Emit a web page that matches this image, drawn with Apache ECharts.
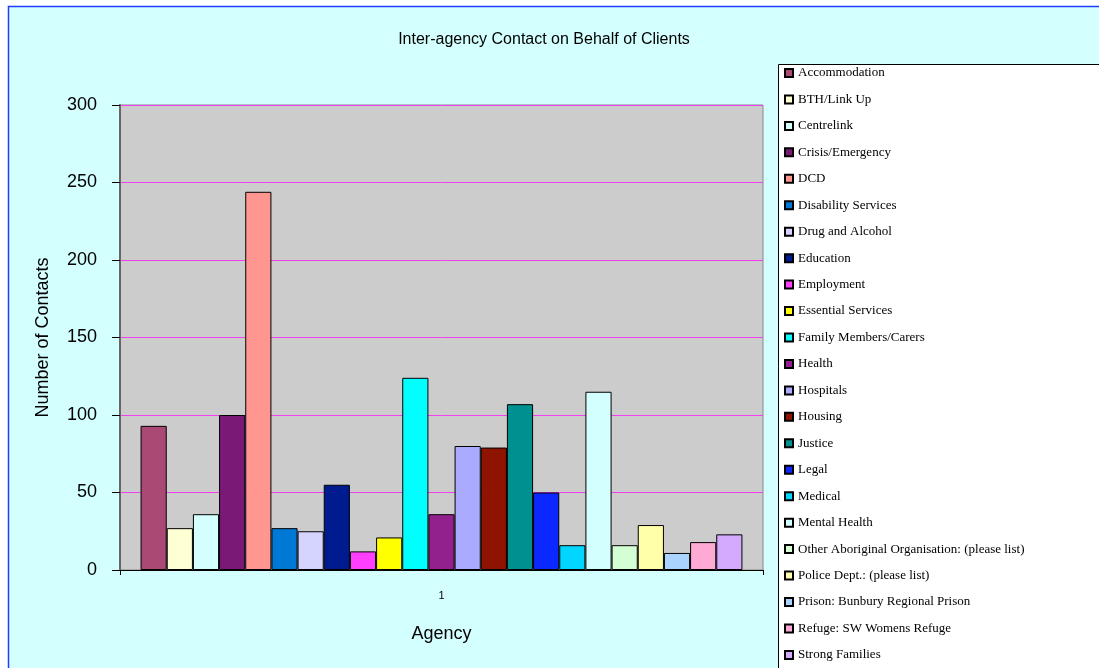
<!DOCTYPE html>
<html>
<head>
<meta charset="utf-8">
<script src="https://cdn.jsdelivr.net/npm/echarts@6/dist/echarts.min.js"></script>
<style>
html,body{margin:0;padding:0;background:#ffffff;}
#chart{width:1099px;height:668px;}
</style>
</head>
<body>
<div id="chart"></div>
<script>
const categories = ['1'];
const agencies = [
  'Accommodation','BTH/Link Up','Centrelink','Crisis/Emergency','DCD',
  'Disability Services','Drug and Alcohol','Education','Employment','Essential Services',
  'Family Members/Carers','Health','Hospitals','Housing','Justice','Legal','Medical',
  'Mental Health','Other Aboriginal Organisation: (please list)','Police Dept.: (please list)',
  'Prison: Bunbury Regional Prison','Refuge: SW Womens Refuge','Strong Families'
];
const contacts = [93, 27, 36, 100, 244, 27, 25, 55, 12, 21, 124, 36, 80, 79, 107, 50, 16, 115, 16, 29, 11, 18, 23];
const palette = [
  '#AA4A74','#FFFFD4','#D4FFFF','#7A1A76','#FF968F','#0079D6','#D4D4FF','#001A90',
  '#FF3FFF','#FFFF00','#00FFFF','#92218E','#AAAAFF','#8F1400','#009090','#0A28FF',
  '#00D6FF','#D4FFFF','#D4FFD4','#FFFFAA','#AAD4FF','#FFAAD4','#D4AAFF'
];
const yTicks = {min: 0, max: 300, interval: 50};

const chart = echarts.init(document.getElementById('chart'), null, {renderer: 'canvas'});

const series = agencies.map((name, i) => ({
  name: name,
  type: 'bar',
  data: [contacts[i]],
  barGap: '0%',
  barCategoryGap: '6.4%',
  itemStyle: {color: palette[i], borderColor: '#000000', borderWidth: 1},
  emphasis: {disabled: true},
  animation: false
}));

chart.setOption({
  backgroundColor: '#ffffff',
  animation: false,
  color: palette,
  graphic: [
    {type: 'rect', z: -10, silent: true, shape: {x: 8.5, y: 6.5, width: 2000, height: 2000},
     style: {fill: '#D4FFFF', stroke: '#1E3CFF', lineWidth: 1.5}},
    {type: 'rect', z: -5, silent: true, shape: {x: 778.5, y: 64.5, width: 2000, height: 2000},
     style: {fill: '#ffffff', stroke: '#000000', lineWidth: 1}}
  ],
  title: {
    text: 'Inter-agency Contact on Behalf of Clients',
    left: 539, top: 27, textAlign: 'center',
    textStyle: {fontFamily: 'Liberation Sans', fontSize: 16, fontWeight: 'normal', color: '#000000'}
  },
  legend: {
    orient: 'vertical',
    left: 784, top: 66,
    padding: 0,
    itemWidth: 8, itemHeight: 8,
    itemGap: 12.45,
    icon: 'rect',
    selectedMode: false,
    textStyle: {fontFamily: 'Liberation Serif', fontSize: 13, color: '#000000', lineHeight: 14, padding: [0,0,0,0]},
    data: agencies
  },
  grid: {
    left: 120, top: 105, width: 643, height: 465,
    show: true, backgroundColor: '#CCCCCC', borderColor: '#888888', borderWidth: 1
  },
  xAxis: {
    type: 'category',
    data: categories,
    name: 'Agency', nameLocation: 'middle', nameGap: 55,
    nameTextStyle: {fontFamily: 'Liberation Sans', fontSize: 18, color: '#000000'},
    axisLine: {show: true, lineStyle: {color: '#000000', width: 1}},
    axisTick: {show: true, length: 5, inside: false, lineStyle: {color: '#000000'}},
    axisLabel: {fontFamily: 'Liberation Sans', fontSize: 11, color: '#000000', margin: 20},
    splitLine: {show: false}
  },
  yAxis: {
    type: 'value',
    min: yTicks.min, max: yTicks.max, interval: yTicks.interval,
    name: 'Number of Contacts', nameLocation: 'middle', nameGap: 68, nameRotate: 90,
    nameTextStyle: {fontFamily: 'Liberation Sans', fontSize: 18, color: '#000000'},
    axisLine: {show: true, lineStyle: {color: '#666666', width: 2}},
    axisTick: {show: true, length: 8, inside: false, lineStyle: {color: '#000000'}},
    axisLabel: {fontFamily: 'Liberation Sans', fontSize: 18, color: '#000000', margin: 23},
    splitLine: {show: true, lineStyle: {color: '#F040F0', width: 1}}
  },
  series: series
});
</script>
</body>
</html>
